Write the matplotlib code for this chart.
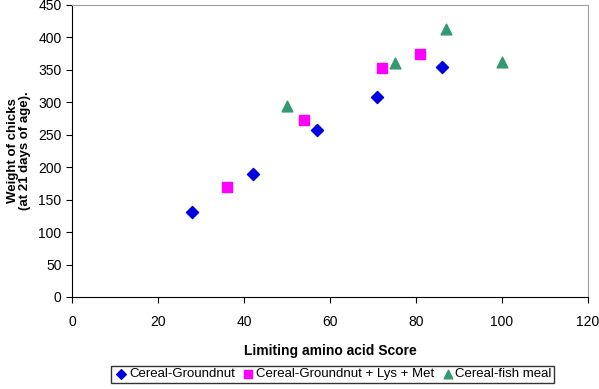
import matplotlib
matplotlib.use("Agg")
import matplotlib.pyplot as plt

plt.rcParams['font.family'] = ['Liberation Sans', 'DejaVu Sans']

# Cereal-Groundnut
gn_x = [28, 42, 57, 71, 86]
gn_y = [131, 190, 258, 308, 354]
# Cereal-Groundnut + Lys + Met
lm_x = [36, 54, 72, 81]
lm_y = [169, 273, 353, 375]
# Cereal-fish meal
fm_x = [50, 75, 87, 100]
fm_y = [294, 360, 413, 362]

fig = plt.figure(figsize=(5.99, 3.89), dpi=100)
ax = fig.add_axes([72/599, 1-297/389, 516/599, 292/389])

ax.scatter(gn_x, gn_y, marker='D', s=38, color='#0000E0', label='Cereal-Groundnut', zorder=3)
ax.scatter(lm_x, lm_y, marker='s', s=55, color='#FF00FF', label='Cereal-Groundnut + Lys + Met', zorder=3)
ax.scatter(fm_x, fm_y, marker='^', s=60, color='#339970', label='Cereal-fish meal', zorder=3)

ax.set_xlim(0, 120)
ax.set_ylim(0, 450)
ax.set_xticks(range(0, 121, 20))
ax.set_yticks(range(0, 451, 50))
ax.tick_params(direction='out', length=4, labelsize=10, colors='black')
ax.tick_params(axis='x', pad=9)
for s in ['top', 'right']:
    ax.spines[s].set_color('#a0a0a0')
for s in ['left', 'bottom']:
    ax.spines[s].set_color('black')

ax.set_xlabel('Limiting amino acid Score', fontsize=10, fontweight='bold', labelpad=11)
ax.set_ylabel('Weight of chicks\n(at 21 days of age).', fontsize=9.5, fontweight='bold',
              linespacing=1.0)
ax.yaxis.set_label_coords(-0.08, 0.5)

leg = ax.legend(loc='upper center', bbox_to_anchor=(0.505, -0.235), ncol=3, fontsize=9.5,
                frameon=True, fancybox=False, edgecolor='black', handletextpad=0.0,
                columnspacing=0.4, borderpad=0.2, markerscale=0.8, handlelength=1.2,
                borderaxespad=0)
leg.get_frame().set_linewidth(1.0)

fig.savefig('out.png', dpi=100)
